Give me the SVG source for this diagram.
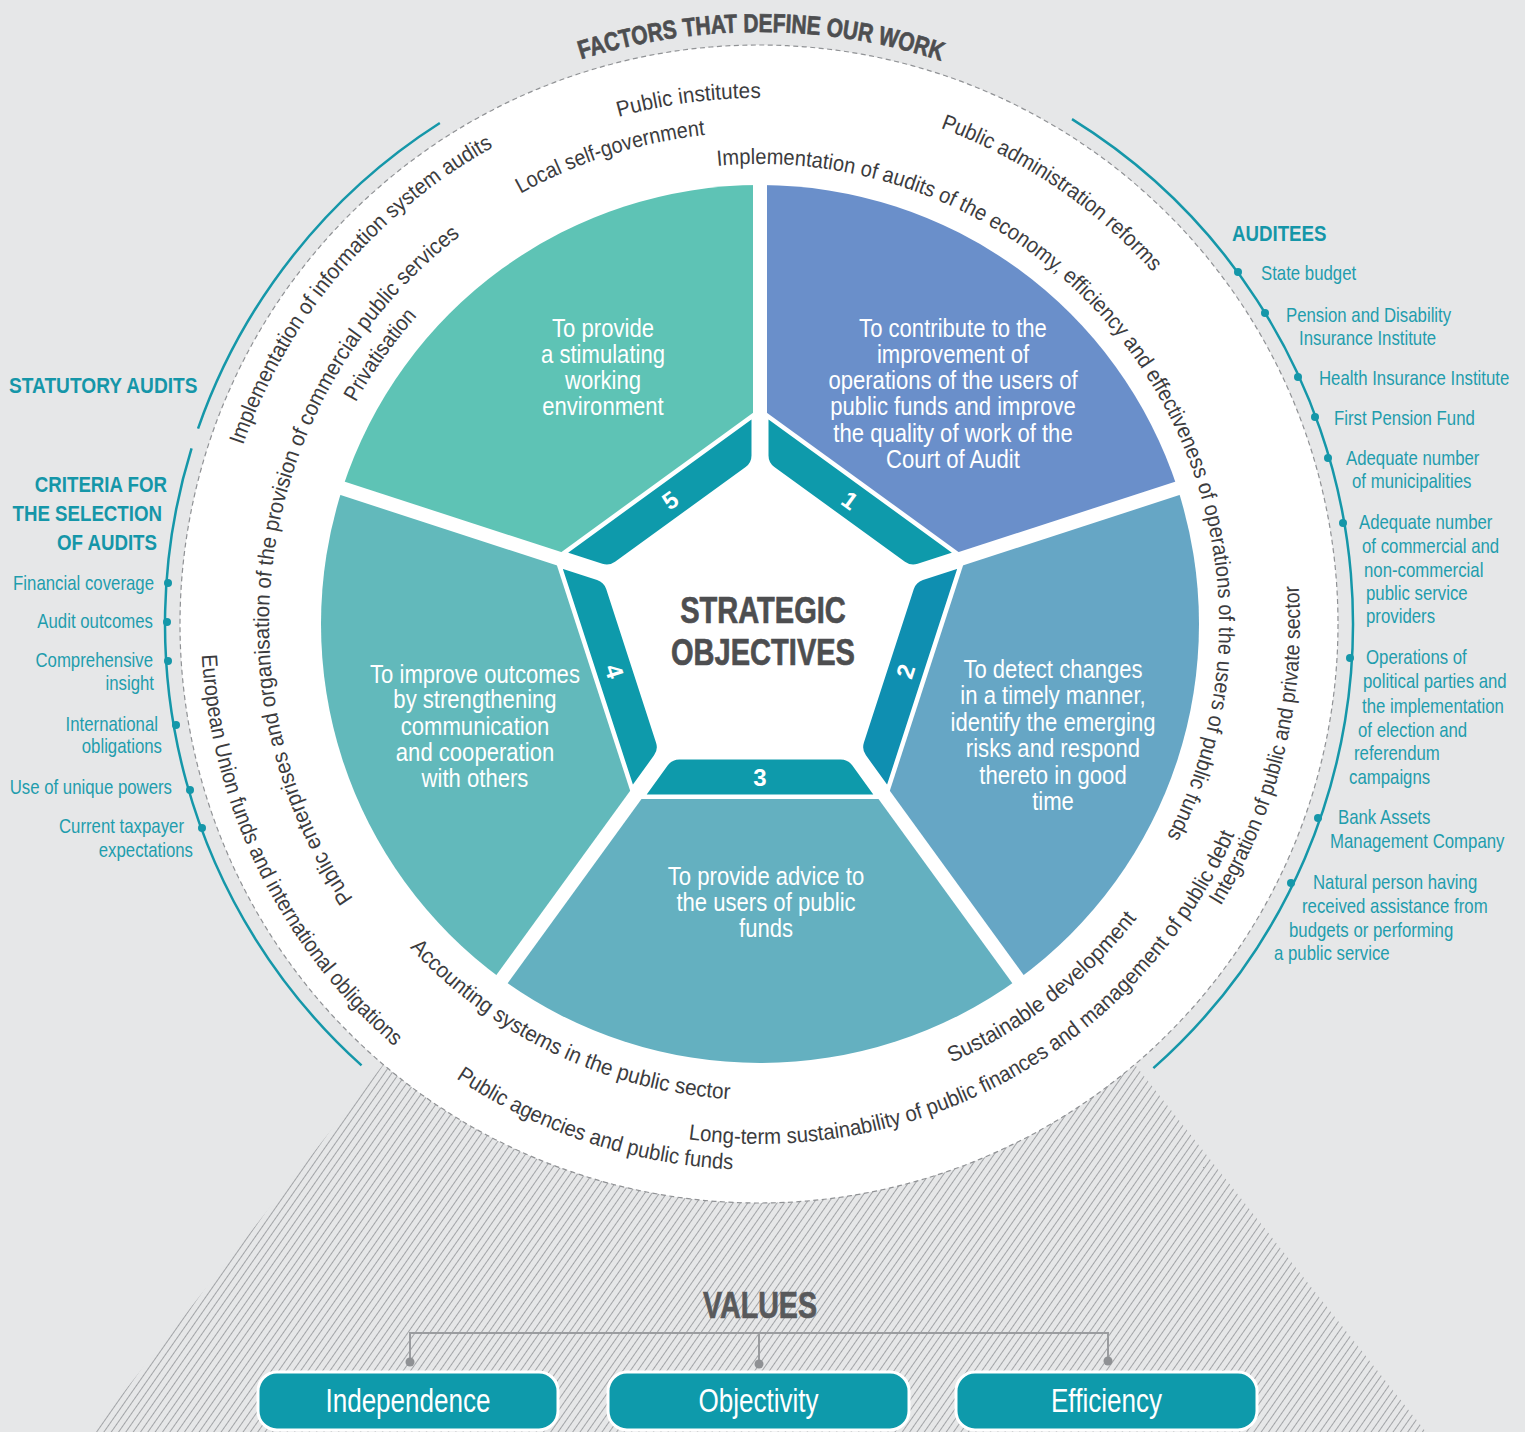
<svg xmlns="http://www.w3.org/2000/svg" width="1525" height="1432" viewBox="0 0 1525 1432">
  <defs>
    <style>
      .ring { font-family: "Liberation Sans", Arial, sans-serif; font-size: 22px; fill: #3c3c3e; }
      .obj { font-family: "Liberation Sans", Arial, sans-serif; font-size: 26px; fill: #ffffff; text-anchor: middle; }
      .lst { font-family: "Liberation Sans", Arial, sans-serif; font-size: 20px; fill: #1f9dad; }
      .lst-r { text-anchor: end; }
      .hdr { font-family: "Liberation Sans", Arial, sans-serif; font-size: 22px; font-weight: bold; fill: #1596a8; }
      .num { font-family: "Liberation Sans", Arial, sans-serif; font-size: 24px; font-weight: bold; fill: #ffffff; text-anchor: middle; }
      .title { font-family: "Liberation Sans", Arial, sans-serif; font-weight: bold; fill: #4d4e50; stroke: #4d4e50; stroke-width: 0.7; text-anchor: middle; }
      .val { font-family: "Liberation Sans", Arial, sans-serif; font-size: 33px; fill: #ffffff; text-anchor: middle; }
      .arc { fill: none; stroke: #1597a9; stroke-width: 2.5; }
      .dot { fill: #1597a9; }
      .gap { stroke: #ffffff; stroke-width: 14; }
      .badge { fill: #0e9aab; stroke: #ffffff; stroke-width: 3; stroke-linejoin: round; }
      .box { fill: #0e9aab; stroke: #ffffff; stroke-width: 3; }
      .link { fill: none; stroke: #9a9c9f; stroke-width: 2; }
      .pin { fill: #8f9194; }
    </style>
    <pattern id="hatch" width="6" height="6" patternUnits="userSpaceOnUse" patternTransform="rotate(35)">
      <rect width="6" height="6" fill="#e6e7e8"/>
      <line x1="0.5" y1="0" x2="0.5" y2="6" stroke="#a2a4a7" stroke-width="1"/>
    </pattern>
    <!-- badge of objective 1; the others are the same shape turned by 72 degree steps -->
    <path id="badge-shape" d="M767,416.48 L955.2,553.22 L918.13,565.26 Q910.52,567.73 904.05,563.03 L773.47,468.15 Q767,463.45 767,455.45 Z"/>
    <!-- baselines of the curved labels (circle centre 759,624) -->
    <path id="p-factors" d="M580.98,59.40 A592,592 0 0 1 1009.19,87.47"/>
    <path id="p-inst" d="M618.45,117.03 A526,526 0 0 1 850.34,105.99"/>
    <path id="p-local" d="M520.47,193.69 A492,492 0 0 1 801.88,133.87"/>
    <path id="p-eee" d="M717.31,165.89 A460,460 0 0 1 1111.38,919.68"/>
    <path id="p-reform" d="M940.45,128.16 A528,528 0 0 1 1216.26,360"/>
    <path id="p-isaudit" d="M243.06,445.34 A546,546 0 0 1 572.26,110.93"/>
    <path id="p-priv" d="M355.90,402.39 A460,460 0 0 1 463.32,271.62"/>
    <path id="p-enter" d="M353.26,898.72 A490,490 0 0 1 514,199.65"/>
    <path id="p-integ" d="M1220.77,905.87 A541,541 0 0 0 1281.57,483.98"/>
    <path id="p-sust" d="M951.53,1062.60 A479,479 0 0 0 1193.12,826.43"/>
    <path id="p-long" d="M688.43,1139.19 A520,520 0 0 0 1271.10,714.30"/>
    <path id="p-acc" d="M409.74,947.41 A476,476 0 0 0 841.66,1092.77"/>
    <path id="p-agen" d="M456.05,1078.25 A546,546 0 0 0 853.81,1161.71"/>
    <path id="p-eu" d="M201.87,655.15 A558,558 0 0 0 523.18,1129.72"/>
  </defs>

  <!-- backdrop -->
  <rect x="0" y="0" width="1525" height="1432" fill="#e6e7e8"/>
  <polygon points="759,590 92,1432 1426,1432" fill="url(#hatch)"/>
  <circle cx="759" cy="624" r="579" fill="#ffffff" stroke="#909295" stroke-width="1.2" stroke-dasharray="5 3.5"/>

  <!-- outer ring heading -->
  <g id="factors-title">
    <text class="title" style="font-size:26px;text-anchor:start"><textPath href="#p-factors" textLength="366" lengthAdjust="spacingAndGlyphs">FACTORS THAT DEFINE OUR WORK</textPath></text>
  </g>

  <!-- statutory audits -->
  <g id="statutory-audits">
    <path class="arc" d="M198.04,428.65 A594,594 0 0 1 439.84,123.03"/>
    <text class="hdr" transform="translate(9,393) scale(0.87,1)">STATUTORY AUDITS</text>
  </g>

  <!-- criteria for the selection of audits -->
  <g id="criteria">
    <path class="arc" d="M191.56,448.35 A594,594 0 0 0 361.54,1065.43"/>
    <text class="hdr" text-anchor="end" transform="translate(167,492) scale(0.85,1)">CRITERIA FOR</text>
    <text class="hdr" text-anchor="end" transform="translate(162,521) scale(0.85,1)">THE SELECTION</text>
    <text class="hdr" text-anchor="end" transform="translate(157,550) scale(0.85,1)">OF AUDITS</text>
    <circle class="dot" cx="168" cy="583" r="4"/>
    <circle class="dot" cx="167" cy="622" r="4"/>
    <circle class="dot" cx="168" cy="661" r="4"/>
    <circle class="dot" cx="176" cy="725" r="4"/>
    <circle class="dot" cx="190" cy="790" r="4"/>
    <circle class="dot" cx="202" cy="828" r="4"/>
    <text class="lst lst-r" transform="translate(154,590) scale(0.84,1)">Financial coverage</text>
    <text class="lst lst-r" transform="translate(153,628) scale(0.84,1)">Audit outcomes</text>
    <text class="lst lst-r" transform="translate(153,667) scale(0.84,1)">Comprehensive</text>
    <text class="lst lst-r" transform="translate(154,690) scale(0.84,1)">insight</text>
    <text class="lst lst-r" transform="translate(158,731) scale(0.84,1)">International</text>
    <text class="lst lst-r" transform="translate(162,753) scale(0.84,1)">obligations</text>
    <text class="lst lst-r" transform="translate(172,794) scale(0.84,1)">Use of unique powers</text>
    <text class="lst lst-r" transform="translate(184,833) scale(0.84,1)">Current taxpayer</text>
    <text class="lst lst-r" transform="translate(193,857) scale(0.84,1)">expectations</text>
  </g>

  <!-- auditees -->
  <g id="auditees">
    <path class="arc" d="M1072.01,119.16 A594,594 0 0 1 1153.37,1068.19"/>
    <text class="hdr" transform="translate(1232,241) scale(0.85,1)">AUDITEES</text>
    <circle class="dot" cx="1238" cy="272" r="4"/>
    <circle class="dot" cx="1265" cy="313" r="4"/>
    <circle class="dot" cx="1298" cy="377" r="4"/>
    <circle class="dot" cx="1315" cy="417" r="4"/>
    <circle class="dot" cx="1328" cy="458" r="4"/>
    <circle class="dot" cx="1343" cy="523" r="4"/>
    <circle class="dot" cx="1350" cy="658" r="4"/>
    <circle class="dot" cx="1318" cy="818" r="4"/>
    <circle class="dot" cx="1291" cy="883" r="4"/>
    <text class="lst" transform="translate(1261,280) scale(0.84,1)">State budget</text>
    <text class="lst" transform="translate(1286,322) scale(0.84,1)">Pension and Disability</text>
    <text class="lst" transform="translate(1299,345) scale(0.84,1)">Insurance Institute</text>
    <text class="lst" transform="translate(1319,385) scale(0.84,1)">Health Insurance Institute</text>
    <text class="lst" transform="translate(1334,425) scale(0.84,1)">First Pension Fund</text>
    <text class="lst" transform="translate(1346,465) scale(0.84,1)">Adequate number</text>
    <text class="lst" transform="translate(1352,488) scale(0.84,1)">of municipalities</text>
    <text class="lst" transform="translate(1359,529) scale(0.84,1)">Adequate number</text>
    <text class="lst" transform="translate(1362,553) scale(0.84,1)">of commercial and</text>
    <text class="lst" transform="translate(1364,577) scale(0.84,1)">non-commercial</text>
    <text class="lst" transform="translate(1366,600) scale(0.84,1)">public service</text>
    <text class="lst" transform="translate(1366,623) scale(0.84,1)">providers</text>
    <text class="lst" transform="translate(1366,664) scale(0.84,1)">Operations of</text>
    <text class="lst" transform="translate(1363,688) scale(0.84,1)">political parties and</text>
    <text class="lst" transform="translate(1362,713) scale(0.84,1)">the implementation</text>
    <text class="lst" transform="translate(1358,737) scale(0.84,1)">of election and</text>
    <text class="lst" transform="translate(1354,760) scale(0.84,1)">referendum</text>
    <text class="lst" transform="translate(1349,784) scale(0.84,1)">campaigns</text>
    <text class="lst" transform="translate(1338,824) scale(0.84,1)">Bank Assets</text>
    <text class="lst" transform="translate(1330,848) scale(0.84,1)">Management Company</text>
    <text class="lst" transform="translate(1313,889) scale(0.84,1)">Natural person having</text>
    <text class="lst" transform="translate(1302,913) scale(0.84,1)">received assistance from</text>
    <text class="lst" transform="translate(1289,937) scale(0.84,1)">budgets or performing</text>
    <text class="lst" transform="translate(1274,960) scale(0.84,1)">a public service</text>
  </g>

  <!-- curved factor labels -->
  <g id="factors">
    <text class="ring"><textPath href="#p-inst" textLength="144" lengthAdjust="spacingAndGlyphs">Public institutes</textPath></text>
    <text class="ring"><textPath href="#p-local" textLength="195" lengthAdjust="spacingAndGlyphs">Local self-government</textPath></text>
    <text class="ring"><textPath href="#p-eee" textLength="985" lengthAdjust="spacingAndGlyphs">Implementation of audits of the economy, efficiency and effectiveness of operations of the users of public funds</textPath></text>
    <text class="ring"><textPath href="#p-reform" textLength="259" lengthAdjust="spacingAndGlyphs">Public administration reforms</textPath></text>
    <text class="ring"><textPath href="#p-isaudit" textLength="398" lengthAdjust="spacingAndGlyphs">Implementation of information system audits</textPath></text>
    <text class="ring"><textPath href="#p-priv" textLength="106" lengthAdjust="spacingAndGlyphs">Privatisation</textPath></text>
    <text class="ring"><textPath href="#p-enter" textLength="740" lengthAdjust="spacingAndGlyphs">Public enterprises and organisation of the provision of commercial public services</textPath></text>
    <text class="ring"><textPath href="#p-integ" textLength="335" lengthAdjust="spacingAndGlyphs">Integration of public and private sector</textPath></text>
    <text class="ring"><textPath href="#p-sust" textLength="237" lengthAdjust="spacingAndGlyphs">Sustainable development</textPath></text>
    <text class="ring"><textPath href="#p-long" textLength="671" lengthAdjust="spacingAndGlyphs">Long-term sustainability of public finances and management of public debt</textPath></text>
    <text class="ring"><textPath href="#p-acc" textLength="363" lengthAdjust="spacingAndGlyphs">Accounting systems in the public sector</textPath></text>
    <text class="ring"><textPath href="#p-agen" textLength="295" lengthAdjust="spacingAndGlyphs">Public agencies and public funds</textPath></text>
    <text class="ring"><textPath href="#p-eu" textLength="448" lengthAdjust="spacingAndGlyphs">European Union funds and international obligations</textPath></text>
  </g>

  <!-- strategic objectives: wedges of radius 439 around 760,624 -->
  <g id="objective-1">
    <path d="M760,624 L760,185 A439,439 0 0 1 1177.51,488.34 Z" fill="#6a8fca"/>
    <text class="obj" transform="translate(953,337) scale(0.85,1)">To contribute to the</text>
    <text class="obj" transform="translate(953,363) scale(0.85,1)">improvement of</text>
    <text class="obj" transform="translate(953,389) scale(0.85,1)">operations of the users of</text>
    <text class="obj" transform="translate(953,415) scale(0.85,1)">public funds and improve</text>
    <text class="obj" transform="translate(953,442) scale(0.85,1)">the quality of work of the</text>
    <text class="obj" transform="translate(953,468) scale(0.85,1)">Court of Audit</text>
  </g>
  <g id="objective-2">
    <path d="M760,624 L1177.51,488.34 A439,439 0 0 1 1018.04,979.16 Z" fill="#66a6c5"/>
    <text class="obj" transform="translate(1053,678) scale(0.85,1)">To detect changes</text>
    <text class="obj" transform="translate(1053,704) scale(0.85,1)">in a timely manner,</text>
    <text class="obj" transform="translate(1053,731) scale(0.85,1)">identify the emerging</text>
    <text class="obj" transform="translate(1053,757) scale(0.85,1)">risks and respond</text>
    <text class="obj" transform="translate(1053,784) scale(0.85,1)">thereto in good</text>
    <text class="obj" transform="translate(1053,810) scale(0.85,1)">time</text>
  </g>
  <g id="objective-3">
    <path d="M760,624 L1018.04,979.16 A439,439 0 0 1 501.96,979.16 Z" fill="#64b0c0"/>
    <text class="obj" transform="translate(766,885) scale(0.85,1)">To provide advice to</text>
    <text class="obj" transform="translate(766,911) scale(0.85,1)">the users of public</text>
    <text class="obj" transform="translate(766,937) scale(0.85,1)">funds</text>
  </g>
  <g id="objective-4">
    <path d="M760,624 L501.96,979.16 A439,439 0 0 1 342.49,488.34 Z" fill="#62b9bb"/>
    <text class="obj" transform="translate(475,683) scale(0.85,1)">To improve outcomes</text>
    <text class="obj" transform="translate(475,708) scale(0.85,1)">by strengthening</text>
    <text class="obj" transform="translate(475,735) scale(0.85,1)">communication</text>
    <text class="obj" transform="translate(475,761) scale(0.85,1)">and cooperation</text>
    <text class="obj" transform="translate(475,787) scale(0.85,1)">with others</text>
  </g>
  <g id="objective-5">
    <path d="M760,624 L342.49,488.34 A439,439 0 0 1 760,185 Z" fill="#5ec3b5"/>
    <text class="obj" transform="translate(603,337) scale(0.85,1)">To provide</text>
    <text class="obj" transform="translate(603,363) scale(0.85,1)">a stimulating</text>
    <text class="obj" transform="translate(603,389) scale(0.85,1)">working</text>
    <text class="obj" transform="translate(603,415) scale(0.85,1)">environment</text>
  </g>

  <!-- white spokes between the wedges -->
  <g id="spokes">
    <line class="gap" x1="760" y1="624" x2="760" y2="174"/>
    <line class="gap" x1="760" y1="624" x2="1187.98" y2="484.94"/>
    <line class="gap" x1="760" y1="624" x2="1024.51" y2="988.06"/>
    <line class="gap" x1="760" y1="624" x2="495.49" y2="988.06"/>
    <line class="gap" x1="760" y1="624" x2="332.02" y2="484.94"/>
  </g>

  <!-- central pentagon with numbered badges -->
  <g id="hub">
    <polygon points="760,407.69 965.72,557.16 887.14,799 632.86,799 554.28,557.16" fill="#ffffff"/>
    <g id="badge-1"><use href="#badge-shape" class="badge"/><text class="num" transform="translate(849.9,500.2) rotate(36)" y="8.5">1</text></g>
    <g id="badge-2"><use href="#badge-shape" class="badge" style="fill:#0f8fb1" transform="rotate(72 760 624)"/><text class="num" transform="translate(905.5,671.3) rotate(-72)" y="8.5">2</text></g>
    <g id="badge-3"><use href="#badge-shape" class="badge" transform="rotate(144 760 624)"/><text class="num" transform="translate(760,777)" y="8.5">3</text></g>
    <g id="badge-4"><use href="#badge-shape" class="badge" transform="rotate(216 760 624)"/><text class="num" transform="translate(614.5,671.3) rotate(72)" y="8.5">4</text></g>
    <g id="badge-5"><use href="#badge-shape" class="badge" transform="rotate(288 760 624)"/><text class="num" transform="translate(670.1,500.2) rotate(-36)" y="8.5">5</text></g>
    <text class="title" style="font-size:37px" transform="translate(763,623) scale(0.785,1)">STRATEGIC</text>
    <text class="title" style="font-size:37px" transform="translate(763,665) scale(0.785,1)">OBJECTIVES</text>
  </g>

  <!-- values -->
  <g id="values-title">
    <text class="title" style="font-size:36px;fill:#58595b;stroke:#58595b" transform="translate(760,1318) scale(0.795,1)">VALUES</text>
  </g>
  <g id="connectors">
    <path class="link" d="M410,1362 V1333 H1108 V1361"/>
    <path class="link" d="M759,1333 V1364"/>
    <circle class="pin" cx="410" cy="1362" r="4.5"/>
    <circle class="pin" cx="759" cy="1364" r="4.5"/>
    <circle class="pin" cx="1108" cy="1361" r="4.5"/>
  </g>
  <g id="value-independence">
    <rect class="box" x="258" y="1372" width="300" height="58" rx="19"/>
    <text class="val" transform="translate(408,1412) scale(0.79,1)">Independence</text>
  </g>
  <g id="value-objectivity">
    <rect class="box" x="608" y="1372" width="301" height="58" rx="19"/>
    <text class="val" transform="translate(758.5,1412) scale(0.79,1)">Objectivity</text>
  </g>
  <g id="value-efficiency">
    <rect class="box" x="956" y="1372" width="301" height="58" rx="19"/>
    <text class="val" transform="translate(1106.5,1412) scale(0.79,1)">Efficiency</text>
  </g>
</svg>
